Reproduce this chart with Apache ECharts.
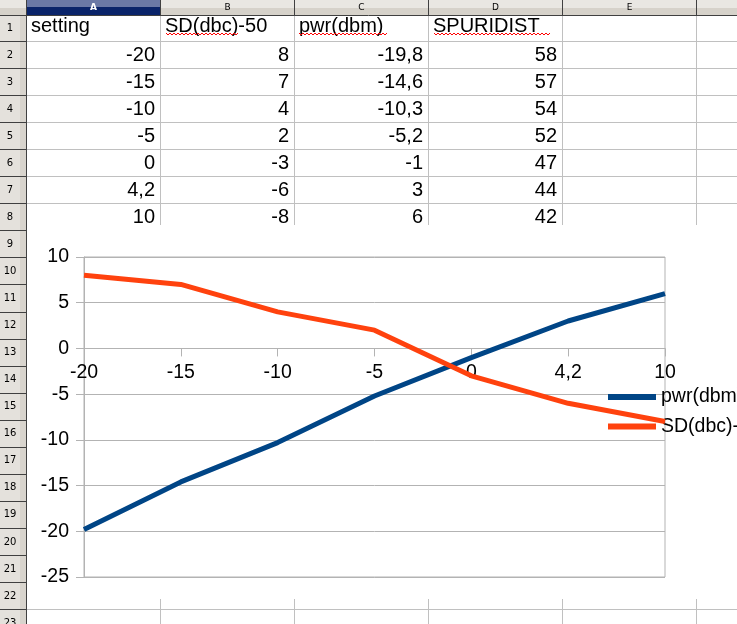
<!DOCTYPE html>
<html><head><meta charset="utf-8">
<script src="https://cdn.jsdelivr.net/npm/echarts@6/dist/echarts.min.js"></script>
<style>html,body{margin:0;padding:0;background:#fff;overflow:hidden}#c{width:737px;height:624px}</style>
</head><body><div id="c"></div>
<script>
// ---- data ----
const settings = ['-20', '-15', '-10', '-5', '0', '4,2', '10'];
const sdDbc = [8, 7, 4, 2, -3, -6, -8];
const pwrDbm = [-19.8, -14.6, -10.3, -5.2, -1, 3, 6];
const spurDist = [58, 57, 54, 52, 47, 44, 42];
const headers = ['setting', 'SD(dbc)-50', 'pwr(dbm)', 'SPURIDIST'];
const colLetters = ['A', 'B', 'C', 'D', 'E'];
const legendNames = ['pwr(dbm)', 'SD(dbc)-50'];

// ---- spreadsheet layout ----
const FONT = '"Liberation Sans", Arial, sans-serif';
const sepX = [160, 294, 428, 562, 696];
const colLeft = [27, 161, 295, 429, 563];
const rowBottom = k => 41.5 + k * 27.05;         // bottom of row k+1
const rowTop = k => k === 0 ? 16 : rowBottom(k - 1);
const crisp = v => Math.floor(v) + 0.5;
const chartTop = 225, chartBottom = 599;

const els = [];
const line = (x1, y1, x2, y2, c) => els.push({type: 'line', silent: true, shape: {x1, y1, x2, y2}, style: {stroke: c, lineWidth: 1}});
const rect = (x, y, w, h, c) => els.push({type: 'rect', silent: true, shape: {x, y, width: w, height: h}, style: {fill: c}});
const text = (x, y, t, o) => els.push({type: 'text', silent: true, x, y, style: Object.assign({text: t, font: '20px ' + FONT, fill: '#000', textVerticalAlign: 'middle'}, o)});

// column header bar
rect(0, 0, 737, 8, '#e9e7e2');
rect(0, 8, 737, 7, '#d6d2ca');
rect(27, 0, 133, 7, '#6b79a6');
rect(27, 7, 133, 8, '#0a246a');
[26, ...sepX].forEach(x => line(x + 0.5, 0, x + 0.5, 15, '#404040'));
line(0, 15.5, 737, 15.5, '#404040');
colLetters.forEach((l, i) => {
  const cx = (colLeft[i] + (i < 4 ? sepX[i] : 696)) / 2;
  text(cx, 8, l, {font: (i === 0 ? 'bold ' : '') + '9px "DejaVu Sans", sans-serif', fill: i === 0 ? '#fff' : '#000', textAlign: 'center'});
});

// row header column
rect(0, 16, 27, 608, '#e4e1dc');
rect(20, 16, 6, 608, '#d8d4cd');
line(26.5, 16, 26.5, 624, '#404040');
for (let k = 0; k < 23; k++) {
  const b = rowBottom(k);
  line(0, crisp(b), 26, crisp(b), '#404040');
  text(10, (rowTop(k) + b) / 2, String(k + 1), {font: '10px "DejaVu Sans", sans-serif', textAlign: 'center'});
}

// cell gridlines
for (let k = 0; k < 7; k++) line(27, crisp(rowBottom(k)), 737, crisp(rowBottom(k)), '#c0c0c0');
line(27, crisp(rowBottom(21)), 737, crisp(rowBottom(21)), '#c0c0c0');
sepX.forEach(x => {
  line(x + 0.5, 16, x + 0.5, chartTop, '#c0c0c0');
  line(x + 0.5, chartBottom, x + 0.5, 624, '#c0c0c0');
});

// cell contents
headers.forEach((h, i) => text(colLeft[i] + 4, 26.5, h, {textAlign: 'left'}));
const fmt = v => String(v).replace('.', ',');
const columns = [settings, sdDbc.map(fmt), pwrDbm.map(fmt), spurDist.map(fmt)];
columns.forEach((col, i) => col.forEach((v, r) => {
  text(sepX[i] - 5, (rowTop(r + 1) + rowBottom(r + 1)) / 2, v, {textAlign: 'right'});
}));

// spell-check squiggles
function squiggle(x0, x1, y) {
  const pts = [];
  for (let x = x0, j = 0; x <= x1; x += 2, j++) pts.push([x, y + (j % 2 ? 2 : 0)]);
  els.push({type: 'polyline', silent: true, shape: {points: pts}, style: {stroke: '#ff0000', lineWidth: 1, fill: null}});
}
squiggle(166, 238, 33);
squiggle(299, 388, 33);
squiggle(434, 551, 33);

// ---- chart ----
const chart = echarts.init(document.getElementById('c'), null, {renderer: 'canvas'});
const GRID = '#b3b3b3';
const gridTop = 257, gridBottom = 47, yMin = -25, yMax = 10;
const plotH = 624 - gridTop - gridBottom;
const zeroOffset = -plotH * (0 - yMin) / (yMax - yMin);
chart.setOption({
  backgroundColor: '#fff',
  animation: false,
  graphic: {elements: els},
  grid: {left: 84, right: 72, top: gridTop, bottom: gridBottom, show: true, borderColor: GRID, borderWidth: 1, backgroundColor: 'transparent', containLabel: false},
  legend: {
    orient: 'vertical', left: 608, top: 386, itemWidth: 48, itemHeight: 6, itemGap: 7.5,
    icon: 'rect', padding: 0,
    textStyle: {fontFamily: FONT, fontSize: 19.5, color: '#000', lineHeight: 22, padding: [0, 0, 0, 0]},
    data: legendNames
  },
  xAxis: {
    type: 'category', data: settings, boundaryGap: false,
    offset: zeroOffset,
    axisLine: {onZero: false, lineStyle: {color: GRID, width: 1}},
    axisTick: {show: true, length: 8, lineStyle: {color: GRID}},
    axisLabel: {interval: 0, margin: 14, fontFamily: FONT, fontSize: 19.5, color: '#000'},
    splitLine: {show: false}
  },
  yAxis: {
    type: 'value', min: yMin, max: yMax, interval: 5,
    axisLine: {show: true, lineStyle: {color: GRID, width: 1}},
    axisTick: {show: true, length: 8, lineStyle: {color: GRID}},
    axisLabel: {margin: 15, fontFamily: FONT, fontSize: 19.5, color: '#000'},
    splitLine: {show: true, lineStyle: {color: GRID, width: 1}}
  },
  series: [
    {name: legendNames[0], type: 'line', data: pwrDbm, symbol: 'none', color: '#004586', lineStyle: {width: 5, color: '#004586'}, z: 3},
    {name: legendNames[1], type: 'line', data: sdDbc, symbol: 'none', color: '#ff420e', lineStyle: {width: 5, color: '#ff420e'}, z: 4}
  ]
});
</script>
</body></html>
